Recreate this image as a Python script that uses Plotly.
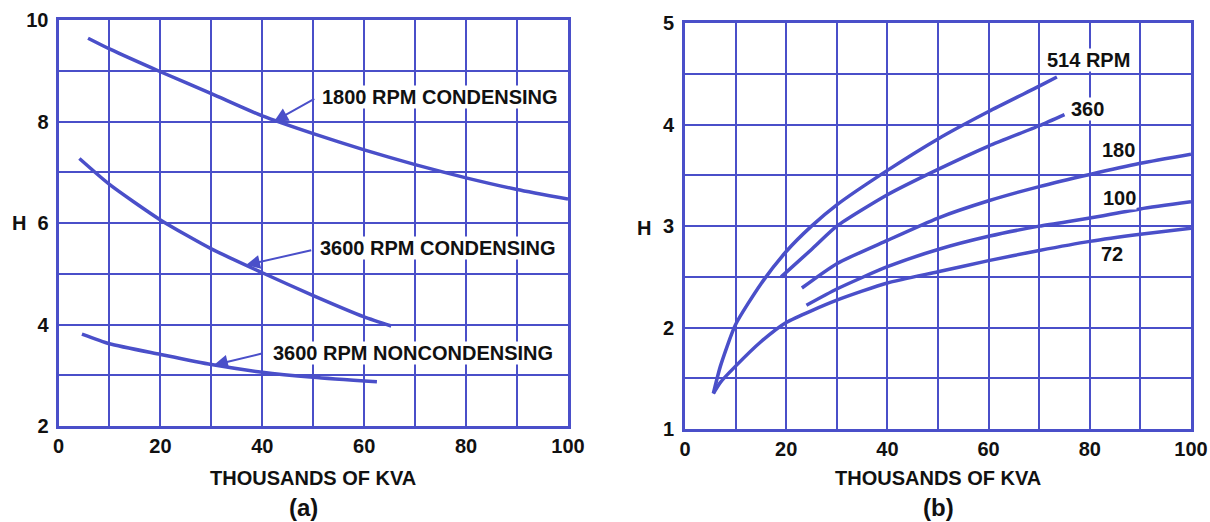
import plotly.graph_objects as go

BLUE = "#4a4fc9"
INK = "#111111"
FONT = "Liberation Sans, Arial, sans-serif"

# ---------------- (a) data ----------------
kva_1800_cond = [5.8, 10, 20, 30, 40, 50, 60, 70, 80, 90, 100]
h_1800_cond = [9.64, 9.43, 8.98, 8.55, 8.11, 7.76, 7.44, 7.15, 6.89, 6.66, 6.47]
kva_3600_cond = [4.1, 10, 20, 30, 40, 50, 60, 65.3]
h_3600_cond = [7.27, 6.76, 6.06, 5.49, 5.02, 4.57, 4.15, 3.97]
kva_3600_noncond = [4.6, 10, 20, 30, 40, 50, 62.5]
h_3600_noncond = [3.81, 3.62, 3.41, 3.21, 3.06, 2.96, 2.87]

# ---------------- (b) data ----------------
kva_514 = [5.6, 7, 10, 15, 20, 25, 30, 40, 50, 60, 70, 73.5]
h_514 = [1.35, 1.62, 2.03, 2.43, 2.75, 3.0, 3.21, 3.55, 3.86, 4.13, 4.38, 4.47]
kva_360 = [19, 25, 30, 40, 50, 60, 70, 75]
h_360 = [2.5, 2.77, 3.0, 3.31, 3.56, 3.79, 3.99, 4.1]
kva_180 = [23.1, 30, 40, 50, 60, 70, 80, 90, 100]
h_180 = [2.39, 2.63, 2.86, 3.08, 3.25, 3.39, 3.51, 3.62, 3.71]
kva_100 = [24, 30, 40, 50, 60, 70, 80, 90, 100]
h_100 = [2.22, 2.38, 2.60, 2.77, 2.90, 3.0, 3.08, 3.17, 3.24]
kva_72 = [5.6, 7, 10, 15, 20, 30, 40, 50, 60, 70, 80, 90, 100]
h_72 = [1.35, 1.46, 1.62, 1.86, 2.05, 2.27, 2.44, 2.55, 2.66, 2.76, 2.85, 2.92, 2.98]

# ---------------- ticks ----------------
x_ticks = [0, 10, 20, 30, 40, 50, 60, 70, 80, 90, 100]
x_tick_labels = ["0", "", "20", "", "40", "", "60", "", "80", "", "100"]
a_y_ticks = [2, 3, 4, 5, 6, 7, 8, 9, 10]
a_y_tick_labels = ["2", "", "4", "", "6", "", "8", "", "10"]
b_y_ticks = [1, 1.5, 2, 2.5, 3, 3.5, 4, 4.5, 5]
b_y_tick_labels = ["1", "", "2", "", "3", "", "4", "", "5"]

# ---------------- labels ----------------
a_labels = ["1800 RPM CONDENSING", "3600 RPM CONDENSING", "3600 RPM NONCONDENSING"]
a_label_pos = [(74.8, 8.48), (74.4, 5.51), (69.6, 3.44)]
a_arrow_tail = [(50.5, 8.46), (49.9, 5.47), (40.4, 3.44)]
a_arrow_head = [(42.3, 8.0), (36.8, 5.17), (30.5, 3.20)]
b_labels = ["514 RPM", "360", "180", "100", "72"]
b_label_pos = [(79.8, 4.64), (79.6, 4.16), (85.7, 3.75), (85.9, 3.28), (84.4, 2.73)]

fig = go.Figure()

curve = dict(mode="lines", line=dict(color=BLUE, width=3.5, shape="spline", smoothing=0.6),
             showlegend=False, hoverinfo="skip")
fig.add_trace(go.Scatter(x=kva_1800_cond, y=h_1800_cond, xaxis="x", yaxis="y", **curve))
fig.add_trace(go.Scatter(x=kva_3600_cond, y=h_3600_cond, xaxis="x", yaxis="y", **curve))
fig.add_trace(go.Scatter(x=kva_3600_noncond, y=h_3600_noncond, xaxis="x", yaxis="y", **curve))
for xs, ys in [(kva_514, h_514), (kva_360, h_360), (kva_180, h_180), (kva_100, h_100), (kva_72, h_72)]:
    fig.add_trace(go.Scatter(x=xs, y=ys, xaxis="x2", yaxis="y2", **curve))

tickfont = dict(family=FONT, size=20, color=INK, weight="bold")
axis_common = dict(showgrid=True, gridcolor=BLUE, gridwidth=2, showline=True, linecolor=BLUE,
                   linewidth=3, mirror=True, zeroline=False, ticks="", tickfont=tickfont,
                   fixedrange=True, automargin=False)

W, H = 1210, 522
def px_x(p):
    return p / W
def px_y(p):
    return 1 - p / H

fig.update_layout(
    width=W, height=H,
    margin=dict(l=0, r=0, t=0, b=0),
    paper_bgcolor="white", plot_bgcolor="white",
    xaxis=dict(domain=[px_x(58.5), px_x(568)], range=[0, 100], anchor="y",
               tickvals=x_ticks, ticktext=x_tick_labels, **axis_common),
    yaxis=dict(domain=[px_y(426), px_y(20)], range=[2, 10], anchor="x",
               tickvals=a_y_ticks, ticktext=a_y_tick_labels, ticklabelstandoff=3, **axis_common),
    xaxis2=dict(domain=[px_x(685), px_x(1191)], range=[0, 100], anchor="y2",
                tickvals=x_ticks, ticktext=x_tick_labels, **axis_common),
    yaxis2=dict(domain=[px_y(429), px_y(23.3)], range=[1, 5], anchor="x2",
                tickvals=b_y_ticks, ticktext=b_y_tick_labels, ticklabelstandoff=4, **axis_common),
)

labfont = dict(family=FONT, size=20, color=INK, weight="bold")
anns = []
for txt, (lx, ly) in zip(a_labels, a_label_pos):
    anns.append(dict(x=lx, y=ly, xref="x", yref="y", text=txt, showarrow=False,
                     font=labfont, bgcolor="white", borderpad=0, xanchor="center", yanchor="middle"))
for (tx, ty), (hx, hy) in zip(a_arrow_tail, a_arrow_head):
    anns.append(dict(x=hx, y=hy, ax=tx, ay=ty, xref="x", yref="y", axref="x", ayref="y",
                     text="", showarrow=True, arrowhead=2, arrowsize=1.4, arrowwidth=2,
                     arrowcolor=BLUE, standoff=0, startstandoff=0))
for txt, (lx, ly) in zip(b_labels, b_label_pos):
    anns.append(dict(x=lx, y=ly, xref="x2", yref="y2", text=txt, showarrow=False,
                     font=labfont, bgcolor="white", borderpad=0, xanchor="center", yanchor="middle"))

titlefont = dict(family=FONT, size=20, color=INK, weight="bold")
subfont = dict(family=FONT, size=24, color=INK, weight="bold")
for cx, cy, txt, f in [(313, 478, "THOUSANDS OF KVA", titlefont), (938, 478, "THOUSANDS OF KVA", titlefont),
                       (303, 507, "(a)", subfont), (938, 507, "(b)", subfont),
                       (19, 223, "H", titlefont), (644, 228, "H", titlefont)]:
    anns.append(dict(x=px_x(cx), y=px_y(cy), xref="paper", yref="paper", text=txt, showarrow=False,
                     font=f, xanchor="center", yanchor="middle"))
fig.update_layout(annotations=anns)

fig.write_html("out.html")
